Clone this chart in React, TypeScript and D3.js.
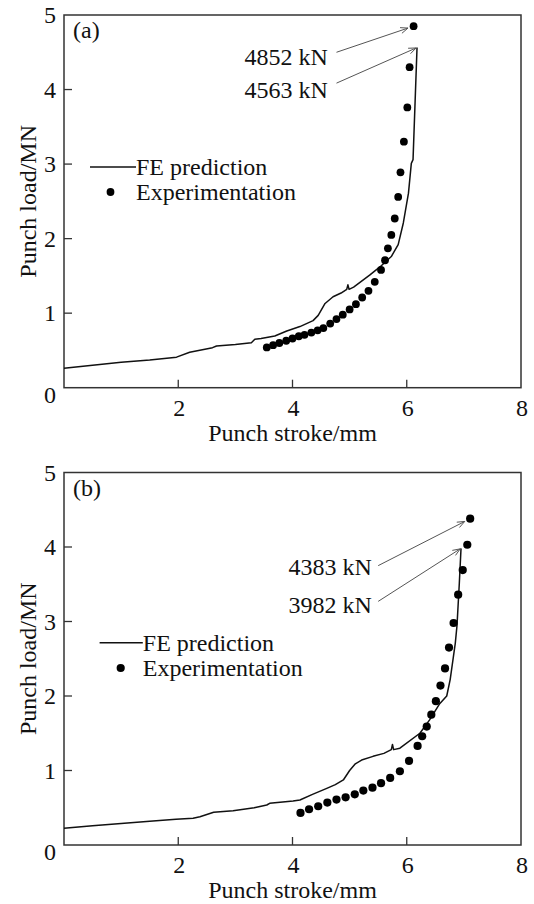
import React from 'react';
import * as d3 from 'd3';

// ---------- data ----------
const xTicks = [2, 4, 6, 8];
const yTicks = [1, 2, 3, 4, 5];
const xTitle = 'Punch stroke/mm';
const yTitle = 'Punch load/MN';
const legendNames = ['FE prediction', 'Experimentation'];

// Panel (a)
const feStrokeA = [0, 0.5, 1.0, 1.5, 1.97, 2.2, 2.6, 2.67, 3.0, 3.28, 3.34, 3.45, 3.69, 3.9, 4.13, 4.36, 4.45, 4.57, 4.71, 4.85, 4.95, 4.97, 4.99, 5.07, 5.35, 5.53, 5.73, 5.85, 5.94, 6.03, 6.08, 6.11, 6.18];
const feLoadA = [0.26, 0.3, 0.34, 0.37, 0.41, 0.475, 0.537, 0.56, 0.58, 0.604, 0.65, 0.66, 0.693, 0.76, 0.82, 0.9, 0.97, 1.13, 1.22, 1.27, 1.32, 1.38, 1.32, 1.35, 1.51, 1.62, 1.76, 1.92, 2.21, 2.61, 3.01, 3.06, 4.563];
const expStrokeA = [3.55, 3.66, 3.77, 3.89, 4.0, 4.11, 4.21, 4.33, 4.44, 4.54, 4.66, 4.77, 4.88, 5.0, 5.11, 5.22, 5.33, 5.44, 5.55, 5.62, 5.67, 5.73, 5.79, 5.85, 5.89, 5.95, 6.01, 6.05, 6.12];
const expLoadA = [0.54, 0.57, 0.6, 0.63, 0.66, 0.69, 0.71, 0.74, 0.77, 0.8, 0.86, 0.92, 0.98, 1.05, 1.12, 1.21, 1.3, 1.42, 1.58, 1.71, 1.87, 2.05, 2.27, 2.56, 2.89, 3.3, 3.76, 4.3, 4.85];
const peakLabelsA = ['4852 kN', '4563 kN'];

// Panel (b)
const feStrokeB = [0, 0.5, 1.0, 1.5, 1.96, 2.26, 2.38, 2.62, 2.96, 3.33, 3.55, 3.6, 4.01, 4.13, 4.35, 4.6, 4.75, 4.89, 5.0, 5.1, 5.21, 5.41, 5.6, 5.73, 5.75, 5.77, 5.88, 6.23, 6.4, 6.58, 6.7, 6.76, 6.85, 6.88, 6.92, 6.95];
const feLoadB = [0.224, 0.26, 0.29, 0.32, 0.345, 0.36, 0.38, 0.44, 0.46, 0.5, 0.537, 0.56, 0.59, 0.604, 0.68, 0.76, 0.81, 0.873, 1.0, 1.09, 1.14, 1.19, 1.23, 1.28, 1.35, 1.28, 1.3, 1.5, 1.68, 1.9, 2.0, 2.22, 2.71, 2.95, 3.51, 3.982];
const expStrokeB = [4.14, 4.29, 4.45, 4.61, 4.77, 4.93, 5.09, 5.24, 5.4, 5.55, 5.71, 5.88, 6.04, 6.19, 6.27, 6.35, 6.43, 6.51, 6.59, 6.67, 6.74, 6.82, 6.9, 6.98, 7.06, 7.11];
const expLoadB = [0.43, 0.48, 0.52, 0.57, 0.61, 0.64, 0.68, 0.73, 0.77, 0.83, 0.9, 0.99, 1.13, 1.33, 1.46, 1.59, 1.75, 1.93, 2.14, 2.37, 2.65, 2.98, 3.36, 3.69, 4.03, 4.38];
const peakLabelsB = ['4383 kN', '3982 kN'];

// ---------- layout ----------
const W = 534;
const H = 904;
const FONT = '"Liberation Serif", "Times New Roman", serif';
const FS = 24;
const LEFT = 64;
const RIGHT = 521;

type PanelCfg = {
  tag: string;
  top: number;
  bottom: number;
  feX: number[];
  feY: number[];
  exX: number[];
  exY: number[];
  peaks: string[];
  labelX: number;
  labelY: number[];
  arrowStart: [number, number][];
  legend: { x0: number; x1: number; y: number; dotX: number; dotY: number };
  dotR: number;
};

const panels: PanelCfg[] = [
  {
    tag: '(a)',
    top: 15,
    bottom: 387.7,
    feX: feStrokeA,
    feY: feLoadA,
    exX: expStrokeA,
    exY: expLoadA,
    peaks: peakLabelsA,
    labelX: 4.62,
    labelY: [4.33, 3.89],
    arrowStart: [[4.77, 4.5], [4.77, 4.086]],
    legend: { x0: 90, x1: 136, y: 167, dotX: 110.5, dotY: 192 },
    dotR: 3.9,
  },
  {
    tag: '(b)',
    top: 472.5,
    bottom: 845,
    feX: feStrokeB,
    feY: feLoadB,
    exX: expStrokeB,
    exY: expLoadB,
    peaks: peakLabelsB,
    labelX: 5.39,
    labelY: [3.63, 3.12],
    arrowStart: [[5.5, 3.75], [5.5, 3.27]],
    legend: { x0: 99.6, x1: 142.8, y: 642.7, dotX: 120.7, dotY: 668 },
    dotR: 4.1,
  },
];

function arrow(x1: number, y1: number, x2: number, y2: number, back: number) {
  const ang = Math.atan2(y2 - y1, x2 - x1);
  const ex = x2 - Math.cos(ang) * back;
  const ey = y2 - Math.sin(ang) * back;
  const L = 8;
  const a = 0.38;
  const h1x = ex - Math.cos(ang - a) * L;
  const h1y = ey - Math.sin(ang - a) * L;
  const h2x = ex - Math.cos(ang + a) * L;
  const h2y = ey - Math.sin(ang + a) * L;
  return `M${x1},${y1}L${ex},${ey}M${h1x},${h1y}L${ex},${ey}L${h2x},${h2y}`;
}

function Panel({ p }: { p: PanelCfg }) {
  const x = d3.scaleLinear().domain([0, 8]).range([LEFT, RIGHT]);
  const y = d3.scaleLinear().domain([0, 5]).range([p.bottom, p.top]);
  const pts = p.feX.map((v, i) => [v, p.feY[i]] as [number, number]);
  const line = d3
    .line<[number, number]>()
    .x((d) => x(d[0]))
    .y((d) => y(d[1]));
  const lastEx = p.exX.length - 1;
  const lastFe = p.feX.length - 1;
  const targets: [number, number, number][] = [
    [x(p.exX[lastEx]), y(p.exY[lastEx]), p.dotR + 2],
    [x(p.feX[lastFe]), y(p.feY[lastFe]), 1],
  ];
  const tickLen = 8;
  return (
    <g>
      <rect
        x={LEFT}
        y={p.top}
        width={RIGHT - LEFT}
        height={p.bottom - p.top}
        fill="none"
        stroke="#333"
        strokeWidth={1.5}
      />
      {xTicks.slice(0, -1).map((t) => (
        <line key={'xt' + t} x1={x(t)} x2={x(t)} y1={p.bottom} y2={p.bottom - tickLen} stroke="#333" strokeWidth={1.3} />
      ))}
      {yTicks.slice(0, -1).map((t) => (
        <line key={'yt' + t} x1={LEFT} x2={LEFT + tickLen} y1={y(t)} y2={y(t)} stroke="#333" strokeWidth={1.3} />
      ))}
      {xTicks.map((t) => (
        <text key={'xl' + t} x={x(t) + 1} y={p.bottom + 28} textAnchor="middle" fontFamily={FONT} fontSize={FS} fill="#111">
          {t}
        </text>
      ))}
      {yTicks.map((t) => (
        <text key={'yl' + t} x={LEFT - 8} y={y(t) + 8} textAnchor="end" fontFamily={FONT} fontSize={FS} fill="#111">
          {t}
        </text>
      ))}
      <text x={LEFT - 8} y={p.bottom + 15} textAnchor="end" fontFamily={FONT} fontSize={FS} fill="#111">
        0
      </text>
      <text x={(LEFT + RIGHT) / 2} y={p.bottom + 53} textAnchor="middle" fontFamily={FONT} fontSize={FS} fill="#111">
        {xTitle}
      </text>
      <text
        transform={`translate(36,${(p.top + p.bottom) / 2}) rotate(-90)`}
        textAnchor="middle"
        fontFamily={FONT}
        fontSize={FS}
        fill="#111"
      >
        {yTitle}
      </text>
      <text x={LEFT + 9} y={p.top + 23} fontFamily={FONT} fontSize={FS} fill="#111">
        {p.tag}
      </text>
      <path d={line(pts) || ''} fill="none" stroke="#111" strokeWidth={1.5} strokeLinejoin="round" />
      {p.exX.map((v, i) => (
        <circle key={'d' + i} cx={x(v)} cy={y(p.exY[i])} r={p.dotR} fill="#000" />
      ))}
      {p.peaks.map((lab, i) => (
        <g key={'an' + i}>
          <text x={x(p.labelX)} y={y(p.labelY[i])} textAnchor="end" fontFamily={FONT} fontSize={FS} fill="#111">
            {lab}
          </text>
          <path
            d={arrow(x(p.arrowStart[i][0]), y(p.arrowStart[i][1]), targets[i][0], targets[i][1], targets[i][2])}
            fill="none"
            stroke="#555"
            strokeWidth={1}
          />
        </g>
      ))}
      <line x1={p.legend.x0} x2={p.legend.x1} y1={p.legend.y} y2={p.legend.y} stroke="#111" strokeWidth={1.5} />
      <text x={p.legend.x1} y={p.legend.y + 8} fontFamily={FONT} fontSize={FS} fill="#111">
        {legendNames[0]}
      </text>
      <circle cx={p.legend.dotX} cy={p.legend.dotY} r={p.dotR} fill="#000" />
      <text x={p.legend.x1} y={p.legend.dotY + 8} fontFamily={FONT} fontSize={FS} fill="#111">
        {legendNames[1]}
      </text>
    </g>
  );
}

export default function App() {
  return (
    <svg
      width={W}
      height={H}
      viewBox={`0 0 ${W} ${H}`}
      style={{ position: 'absolute', left: 0, top: 0, background: '#fff' }}
    >
      <rect x={0} y={0} width={W} height={H} fill="#fff" />
      {panels.map((p) => (
        <Panel key={p.tag} p={p} />
      ))}
    </svg>
  );
}
